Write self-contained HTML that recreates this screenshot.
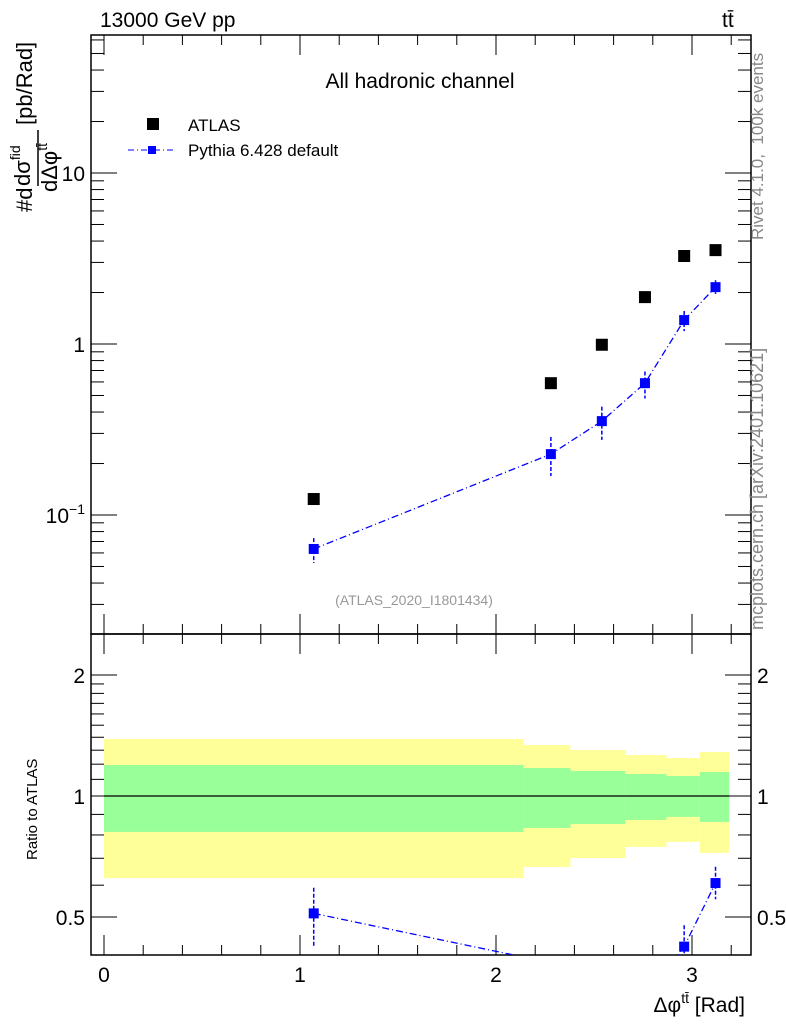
<!DOCTYPE html>
<html><head><meta charset="utf-8"><style>
body{margin:0;background:#fff}
svg text{font-family:"Liberation Sans",sans-serif}
</style></head><body>
<svg id="c" width="786" height="1024" viewBox="0 0 786 1024" xmlns="http://www.w3.org/2000/svg">
<g id="bands"></g>
<g id="axes"></g>
<g id="marks"></g>
<text x="100" y="27" font-size="21">13000 GeV pp</text>
<text x="722" y="27" font-size="21">tt̄</text>
<text x="420" y="88" font-size="21" text-anchor="middle">All hadronic channel</text>
<rect x="147" y="118" width="12" height="12" fill="#000"/>
<text x="188" y="131" font-size="17">ATLAS</text>
<line x1="128" y1="150" x2="175" y2="150" stroke="#00f" stroke-dasharray="6,3,1,3"/>
<rect x="148" y="146" width="8" height="8" fill="#00f"/>
<text x="188" y="156" font-size="17">Pythia 6.428 default</text>
<text x="414" y="605" font-size="14" fill="#999" text-anchor="middle">(ATLAS_2020_I1801434)</text>
<text transform="translate(763,240) rotate(-90)" font-size="17" fill="#888" xml:space="preserve">Rivet 4.1.0,  100k events</text>
<text transform="translate(763,630) rotate(-90)" font-size="18" fill="#888">mcplots.cern.ch [arXiv:2401.10621]</text>
<g>
<text transform="translate(32,212) rotate(-90)" font-size="22">#d</text>
<text transform="translate(30,186) rotate(-90)" font-size="22">dσ<tspan font-size="14" dy="-10">fid</tspan></text>
<line x1="38" y1="130" x2="38" y2="186" stroke="#000" stroke-width="1.5"/>
<text transform="translate(57,192) rotate(-90)" font-size="22">dΔφ<tspan font-size="14" dy="-10">tt̄</tspan></text>
<text transform="translate(32,125) rotate(-90)" font-size="22">[pb/Rad]</text>
</g>
<text transform="translate(37,860) rotate(-90)" font-size="15">Ratio to ATLAS</text>
<text x="745" y="1012" font-size="21" text-anchor="end">Δφ<tspan font-size="14" dy="-9">tt̄</tspan><tspan dy="9"> [Rad]</tspan></text>
</svg>
<script>
const xVals=[1.07,2.28,2.54,2.76,2.96,3.12];
const atlasVals=[0.124,0.59,0.99,1.88,3.27,3.54];
const pythiaVals=[0.0633,0.227,0.354,0.59,1.38,2.15];
const pythiaUp=[0.0733,0.286,0.43,0.69,1.56,2.36];
const pythiaDn=[0.0524,0.169,0.275,0.48,1.19,1.96];
const binEdges=[0,2.14,2.38,2.66,2.87,3.04,3.19];
const yellowHi=[1.386,1.339,1.301,1.265,1.243,1.287];
const greenHi=[1.194,1.174,1.154,1.134,1.121,1.147];
const greenLo=[0.814,0.833,0.852,0.872,0.887,0.862];
const yellowLo=[0.625,0.666,0.701,0.747,0.769,0.722];
const xTicks=[0,1,2,3];
const NS="http://www.w3.org/2000/svg";
const L=91,R=751,T=35,M=634,B=955;
const X=v=>104+v*196;
const Y=v=>173-(Math.log10(v)-1)*171;
const YR=v=>796-Math.log10(v)*402;
function mk(p,tag,a){const e=document.createElementNS(NS,tag);for(const k in a)e.setAttribute(k,a[k]);p.appendChild(e);return e;}
const bands=document.getElementById('bands'),axes=document.getElementById('axes'),marks=document.getElementById('marks');
for(let i=0;i<yellowHi.length;i++){
 const x0=X(binEdges[i]),x1=X(binEdges[i+1]);
 let r=mk(bands,'rect',{x:x0,y:YR(yellowHi[i]),width:x1-x0,height:YR(yellowLo[i])-YR(yellowHi[i]),fill:'#ffff99'});
 
 
 r=mk(bands,'rect',{x:x0,y:YR(greenHi[i]),width:x1-x0,height:YR(greenLo[i])-YR(greenHi[i]),fill:'#99ff99'});
 
 
}
mk(bands,'line',{x1:X(0),x2:X(3.19),y1:YR(1),y2:YR(1),stroke:'#000','stroke-width':1.2});
let f=mk(axes,'rect',{x:L,y:T,width:R-L,height:M-T,fill:'none',stroke:'#000','stroke-width':1.5});


f=mk(axes,'rect',{x:L,y:M,width:R-L,height:B-M,fill:'none',stroke:'#000','stroke-width':1.5});


for(let v=0;v<=3.2001;v+=0.2){
 const x=X(v),maj=Math.abs(v-Math.round(v))<1e-6,len=maj?20:10;
 [[T,1],[M,-1],[M,1],[B,-1]].forEach(([y,d])=>mk(axes,'line',{x1:x,x2:x,y1:y,y2:y+d*len,stroke:'#000'}));
}
xTicks.forEach(v=>{const t=mk(axes,'text',{x:X(v),y:982,'font-size':21,'text-anchor':'middle'});t.textContent=v;
 
 });
for(let d=-2;d<=1;d++)for(let m=1;m<10;m++){
 const v=m*Math.pow(10,d),y=Y(v);if(y<T||y>M)continue;
 const len=m==1?26:13;
 mk(axes,'line',{x1:L,x2:L+len,y1:y,y2:y,stroke:'#000'});
 mk(axes,'line',{x1:R,x2:R-len,y1:y,y2:y,stroke:'#000'});
}
[[10,'10'],[1,'1']].forEach(([v,s])=>{const t=mk(axes,'text',{x:L-6,y:Y(v)+8,'font-size':21,'text-anchor':'end'});t.textContent=s;
 
 });
let t=mk(axes,'text',{x:L-6,y:Y(0.1)+8,'font-size':21,'text-anchor':'end'});
t.innerHTML='10<tspan font-size="14" dy="-9">−1</tspan>';


[0.5,0.6,0.7,0.8,0.9,1,1.1,1.2,1.3,1.4,1.5,1.6,1.7,1.8,1.9,2].forEach(v=>{
 const y=YR(v),maj=[0.5,1,2].includes(v),len=maj?26:13;
 mk(axes,'line',{x1:L,x2:L+len,y1:y,y2:y,stroke:'#000'});
 mk(axes,'line',{x1:R,x2:R-len,y1:y,y2:y,stroke:'#000'});
});
[[2,'2'],[1,'1'],[0.5,'0.5']].forEach(([v,s])=>{
 let a=mk(axes,'text',{x:L-6,y:YR(v)+8,'font-size':21,'text-anchor':'end'});a.textContent=s;
 
 
 a=mk(axes,'text',{x:R+6,y:YR(v)+8,'font-size':21});a.textContent=s;
 
 
});
mk(marks,'polyline',{points:xVals.map((x,i)=>X(x)+','+Y(pythiaVals[i])).join(' '),fill:'none',stroke:'#00f','stroke-width':1.3,'stroke-dasharray':'7,3,1,3'});
xVals.forEach((x,i)=>{
 let r=mk(marks,'rect',{x:X(x)-6,y:Y(atlasVals[i])-6,width:12,height:12,fill:'#000'});
 
 
 mk(marks,'line',{x1:X(x),x2:X(x),y1:Y(pythiaUp[i]),y2:Y(pythiaDn[i]),stroke:'#00f','stroke-width':1.5,'stroke-dasharray':'4,2'});
 r=mk(marks,'rect',{x:X(x)-5,y:Y(pythiaVals[i])-5,width:10,height:10,fill:'#00f'});
 
 
});
const cp=mk(document.getElementById('c'),'clipPath',{id:'rc'});mk(cp,'rect',{x:L,y:M,width:R-L,height:B-M});
const rg=mk(marks,'g',{'clip-path':'url(#rc)'});
mk(rg,'polyline',{points:xVals.map((x,i)=>X(x)+','+YR(pythiaVals[i]/atlasVals[i])).join(' '),fill:'none',stroke:'#00f','stroke-width':1.3,'stroke-dasharray':'7,3,1,3'});
xVals.forEach((x,i)=>{
 const a=atlasVals[i];
 if(YR(pythiaVals[i]/a)>B+6)return;
 mk(rg,'line',{x1:X(x),x2:X(x),y1:YR(pythiaUp[i]/a),y2:YR(pythiaDn[i]/a),stroke:'#00f','stroke-width':1.5,'stroke-dasharray':'4,2'});
 const r=mk(rg,'rect',{x:X(x)-5,y:YR(pythiaVals[i]/a)-5,width:10,height:10,fill:'#00f'});
 
 
});
</script>
</body></html>
